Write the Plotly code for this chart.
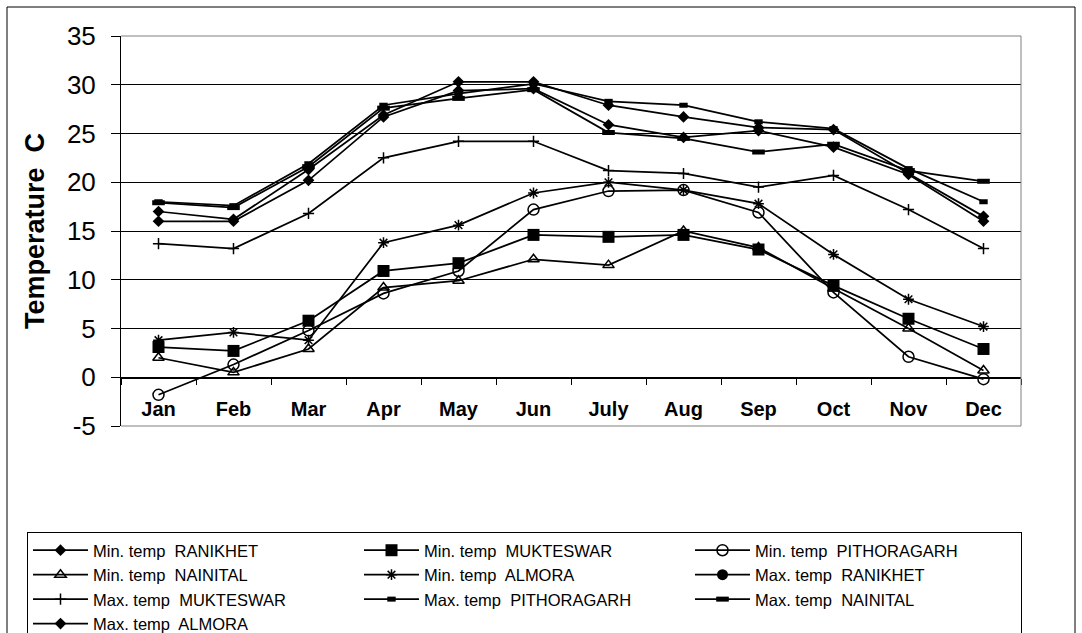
import plotly.graph_objects as go

months = ["Jan", "Feb", "Mar", "Apr", "May", "Jun", "July", "Aug", "Sep", "Oct", "Nov", "Dec"]
y_ticks = [-5, 0, 5, 10, 15, 20, 25, 30, 35]

min_ranikhet = [16.0, 16.0, 20.2, 26.7, 29.4, 29.6, 25.9, 24.6, 25.3, 23.6, 20.8, 16.0]
min_mukteswar = [3.1, 2.7, 5.8, 10.9, 11.7, 14.6, 14.4, 14.6, 13.1, 9.4, 6.0, 2.9]
min_pithoragarh = [-1.8, 1.3, 4.8, 8.6, 10.9, 17.2, 19.1, 19.2, 16.9, 8.7, 2.1, -0.2]
min_nainital = [2.0, 0.5, 2.9, 9.2, 9.9, 12.1, 11.5, 15.0, 13.3, 9.1, 5.0, 0.7]
min_almora = [3.8, 4.6, 3.8, 13.8, 15.6, 18.9, 20.0, 19.2, 17.8, 12.6, 8.0, 5.2]
max_ranikhet = [None] * 12
max_mukteswar = [13.7, 13.2, 16.8, 22.5, 24.2, 24.2, 21.2, 20.9, 19.5, 20.7, 17.2, 13.2]
max_pithoragarh = [18.0, 17.6, 21.9, 27.9, 29.1, 30.1, 28.3, 27.9, 26.2, 25.5, 21.4, 18.0]
max_nainital = [17.9, 17.4, 21.6, 27.6, 28.6, 29.5, 25.1, 24.5, 23.1, 23.9, 21.2, 20.1]
max_almora = [17.0, 16.2, 21.3, 26.9, 30.3, 30.3, 27.9, 26.7, 25.6, 25.4, 20.9, 16.5]

series = [
    ("Min. temp\u00a0 RANIKHET", min_ranikhet, dict(symbol="diamond", size=9, color="black")),
    ("Min. temp\u00a0 MUKTESWAR", min_mukteswar, dict(symbol="square", size=12, color="black")),
    ("Min. temp\u00a0 PITHORAGARH", min_pithoragarh, dict(symbol="circle-open", size=11, color="black", line=dict(width=1.5, color="black"))),
    ("Min. temp\u00a0 NAINITAL", min_nainital, dict(symbol="triangle-up-open", size=10, color="black", line=dict(width=1.5, color="black"))),
    ("Min. temp\u00a0 ALMORA", min_almora, dict(symbol="asterisk-open", size=9, color="black", line=dict(width=1.5, color="black"))),
    ("Max. temp\u00a0 RANIKHET", max_ranikhet, dict(symbol="circle", size=11, color="black")),
    ("Max. temp\u00a0 MUKTESWAR", max_mukteswar, dict(symbol="cross-thin-open", size=8, color="black", line=dict(width=1.5, color="black"))),
    ("Max. temp\u00a0 PITHORAGARH", max_pithoragarh, dict(symbol="line-ew-open", size=6, color="black", line=dict(width=5, color="black"))),
    ("Max. temp\u00a0 NAINITAL", max_nainital, dict(symbol="line-ew-open", size=9, color="black", line=dict(width=5, color="black"))),
    ("Max. temp\u00a0 ALMORA", max_almora, dict(symbol="diamond", size=9, color="black")),
]

FONT = "Liberation Sans, Arial, sans-serif"
W, H = 1082, 633

fig = go.Figure()
for name, vals, marker in series:
    fig.add_trace(go.Scatter(
        x=months, y=vals, name=name, mode="lines+markers",
        line=dict(color="black", width=1.75), marker=marker,
    ))

x_left, x_right = 121, 1021
y_top, y_bot = 36, 426
y_zero = 378.3

fig.update_layout(
    width=W, height=H,
    margin=dict(l=0, r=0, t=0, b=0, autoexpand=False),
    paper_bgcolor="white", plot_bgcolor="white",
    font=dict(family=FONT, color="black"),
    showlegend=True,
    legend=dict(
        orientation="h", xref="container", yref="container",
        x=27 / W, y=1 - 532 / H, xanchor="left", yanchor="top",
        bordercolor="black", borderwidth=1, bgcolor="white",
        font=dict(size=16.5, family=FONT, color="black"),
        itemwidth=55, entrywidth=261, entrywidthmode="pixels", tracegroupgap=0,
    ),
    xaxis=dict(
        type="category", categoryorder="array", categoryarray=months,
        range=[-0.5, 11.5], domain=[x_left / W, x_right / W],
        anchor="free", position=1 - y_zero / H, automargin=False,
        showline=True, linecolor="black", linewidth=1,
        ticks="outside", tickson="boundaries", ticklen=6, tickcolor="black",
        tickfont=dict(size=20, family=FONT, color="black", weight="bold"),
        ticklabelstandoff=13, showgrid=False, zeroline=False,
    ),
    yaxis=dict(
        range=[-5, 35], tickmode="array", tickvals=y_ticks,
        ticktext=[str(v) for v in y_ticks],
        domain=[1 - y_bot / H, 1 - y_top / H],
        automargin=False,
        showline=True, linecolor="black", linewidth=1,
        ticks="outside", ticklen=9, tickcolor="black",
        tickfont=dict(size=26, family=FONT, color="black"),
        showgrid=True, gridcolor="black", gridwidth=1, zeroline=False,
        ticklabelstandoff=10,
    ),
    annotations=[dict(
        text="<b>Temperature\u00a0 C</b>", textangle=-90,
        xref="paper", yref="paper", x=35 / W, y=1 - 231 / H,
        xanchor="center", yanchor="middle", showarrow=False,
        font=dict(size=27, family=FONT, color="black"),
    )],
    shapes=[
        dict(type="line", xref="x domain", yref="y domain", x0=0, x1=1, y0=1, y1=1,
             line=dict(color="#808080", width=1), layer="above"),
        dict(type="line", xref="x domain", yref="y domain", x0=1, x1=1, y0=0, y1=1,
             line=dict(color="#808080", width=1), layer="above"),
        dict(type="line", xref="x domain", yref="y domain", x0=0, x1=1, y0=0, y1=0,
             line=dict(color="#808080", width=1), layer="above"),
        dict(type="rect", xref="paper", yref="paper", x0=7 / W, x1=1075 / W, y0=-0.05, y1=1 - 7 / H,
             line=dict(color="black", width=1), layer="below"),
    ],
)

fig.write_html(
    "out.html",
    config={"displayModeBar": False},
    post_script="document.body.style.margin='0';document.body.style.overflow='hidden';",
)
